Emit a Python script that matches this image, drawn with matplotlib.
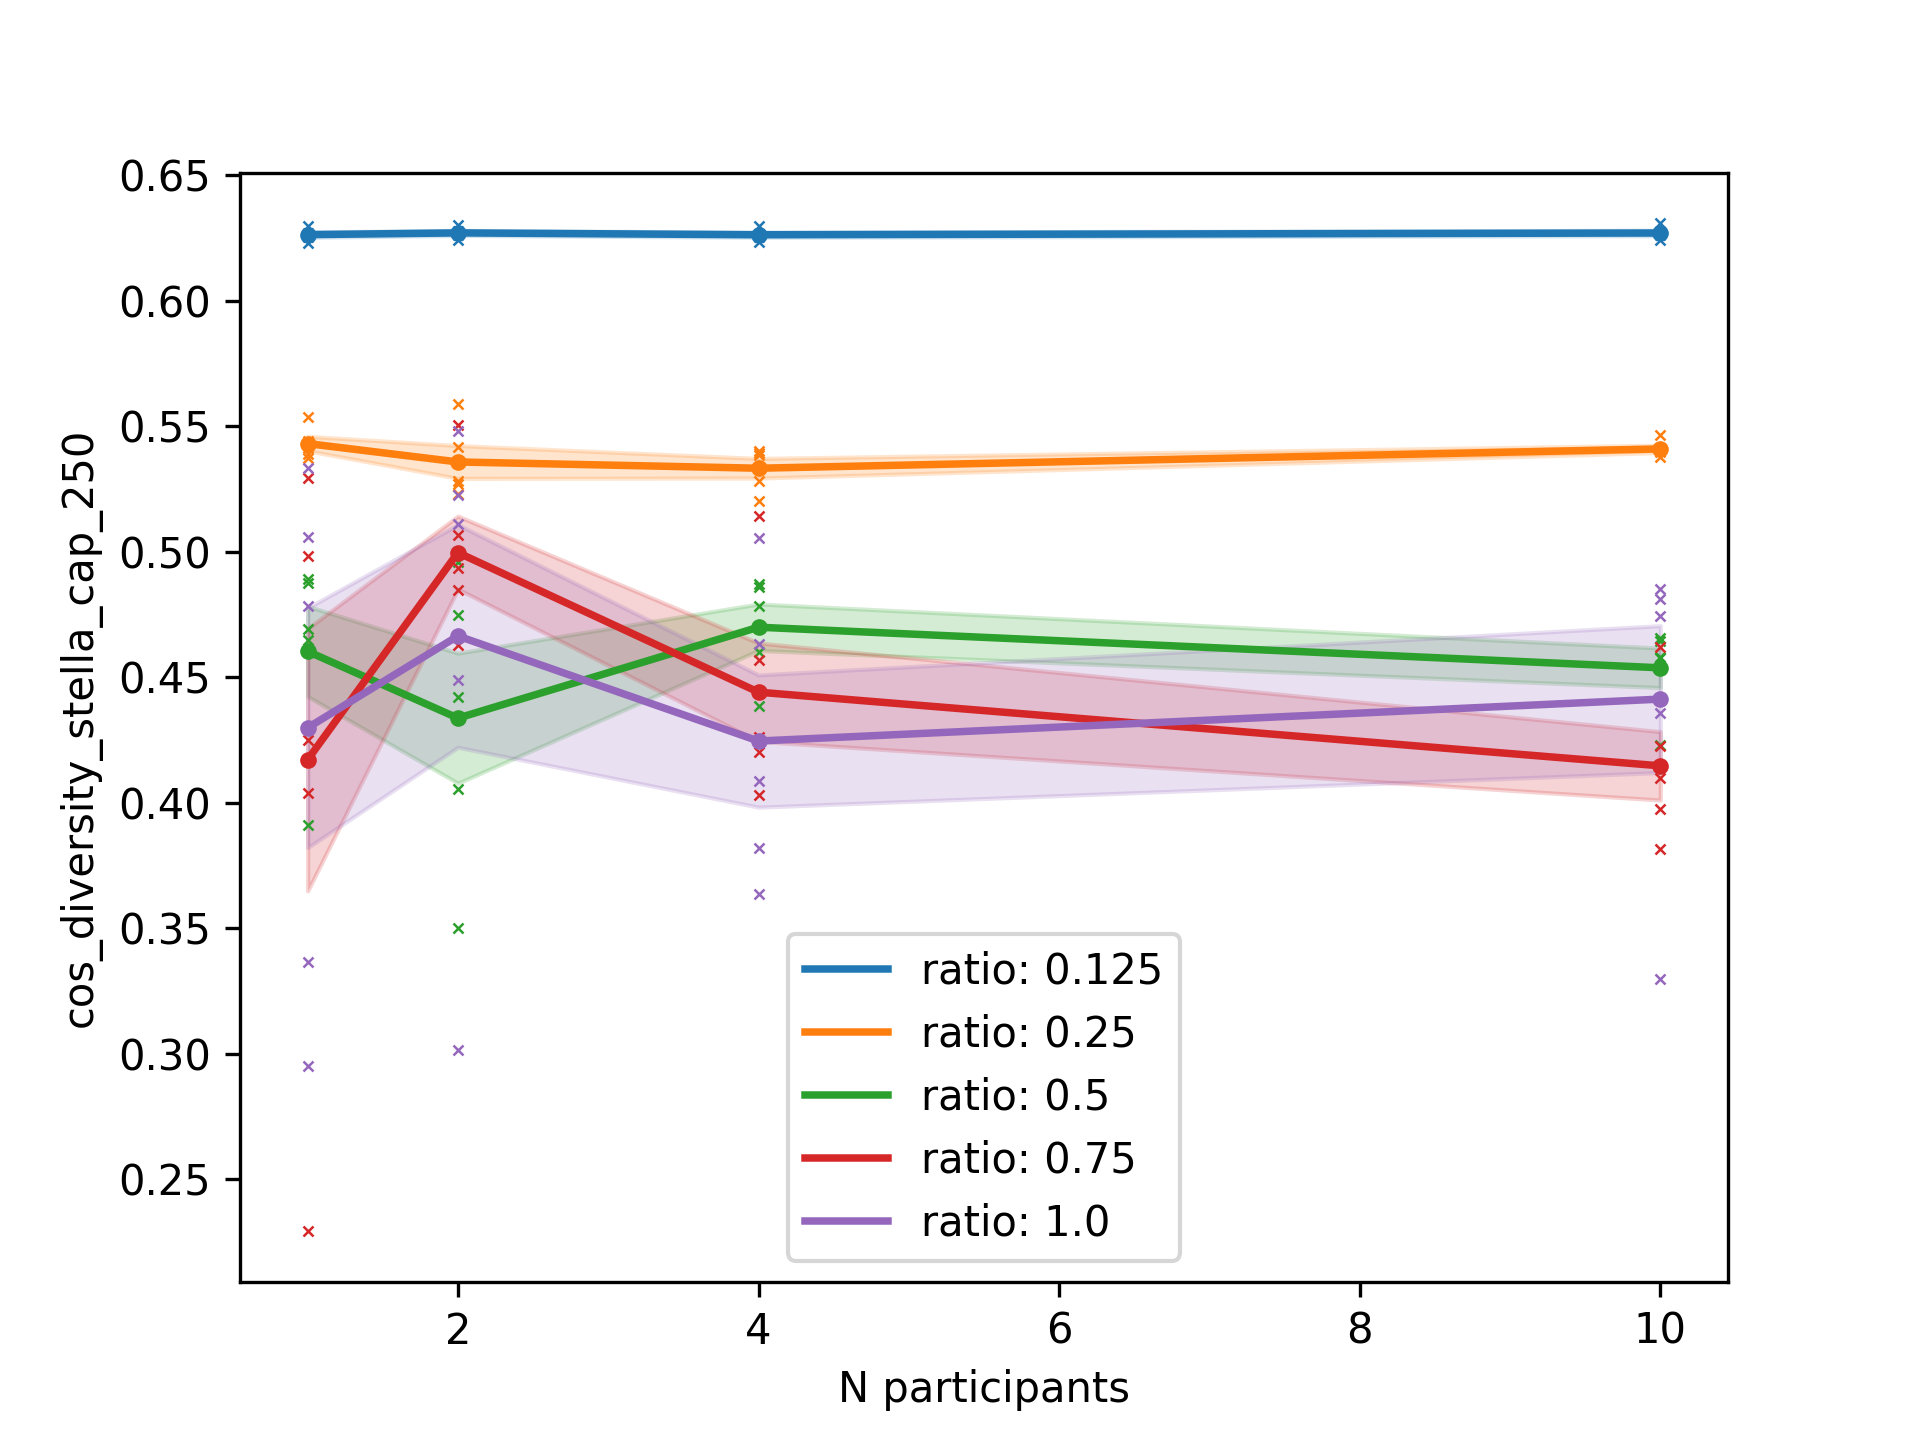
import numpy as np
import matplotlib
matplotlib.use("Agg")
import matplotlib.pyplot as plt

n_participants = [1, 2, 4, 10]
ratio_labels = ["ratio: 0.125", "ratio: 0.25", "ratio: 0.5", "ratio: 0.75", "ratio: 1.0"]
colors = ["#1f77b4", "#ff7f0e", "#2ca02c", "#d62728", "#9467bd"]

# per-run values, one list per N participants
ratio_0125 = [[0.6295, 0.6270, 0.6262, 0.6255, 0.6230],
              [0.6302, 0.6275, 0.6268, 0.6262, 0.6240],
              [0.6295, 0.6265, 0.6262, 0.6255, 0.6233],
              [0.6308, 0.6270, 0.6265, 0.6260, 0.6242]]
ratio_025 = [[0.5536, 0.5440, 0.5414, 0.5387, 0.5374],
             [0.5586, 0.5417, 0.5281, 0.5270, 0.5231],
             [0.5401, 0.5391, 0.5385, 0.5281, 0.5202],
             [0.5463, 0.5410, 0.5400, 0.5396, 0.5376]]
ratio_05 = [[0.4890, 0.4873, 0.4692, 0.4648, 0.3910],
            [0.4957, 0.4749, 0.4422, 0.4056, 0.3499],
            [0.4871, 0.4857, 0.4784, 0.4599, 0.4383],
            [0.4655, 0.4645, 0.4580, 0.4576, 0.4229]]
ratio_075 = [[0.5292, 0.4982, 0.4250, 0.4038, 0.2293],
             [0.5503, 0.5067, 0.4934, 0.4847, 0.4629],
             [0.5142, 0.4568, 0.4260, 0.4201, 0.4029],
             [0.4620, 0.4225, 0.4097, 0.3976, 0.3815]]
ratio_10 = [[0.5332, 0.5059, 0.4782, 0.3366, 0.2953],
            [0.5480, 0.5226, 0.5109, 0.4489, 0.3015],
            [0.5056, 0.4632, 0.4085, 0.3819, 0.3635],
            [0.4851, 0.4812, 0.4744, 0.4359, 0.3296]]

groups = [ratio_0125, ratio_025, ratio_05, ratio_075, ratio_10]

fig, ax = plt.subplots(figsize=(6.4, 4.8), dpi=300)
x = np.array(n_participants)
for label, pts, c in zip(ratio_labels, groups, colors):
    arr = np.array(pts)
    mean = arr.mean(axis=1)
    sem = arr.std(axis=1, ddof=1) / np.sqrt(arr.shape[1])
    for xi, p in zip(n_participants, pts):
        ax.plot([xi] * len(p), p, "x", color=c, ms=2.5, mew=0.6)
    ax.fill_between(x, mean - sem, mean + sem, color=c, alpha=0.2)
    ax.plot(x, mean, "-", color=c, lw=1.8, label=label)
    ax.plot(x, mean, "o", color=c, ms=4, mew=0)

ax.set_xlabel("N participants")
ax.set_ylabel("cos_diversity_stella_cap_250")
ax.legend(loc="lower center")
fig.savefig("out.png", dpi=300)
